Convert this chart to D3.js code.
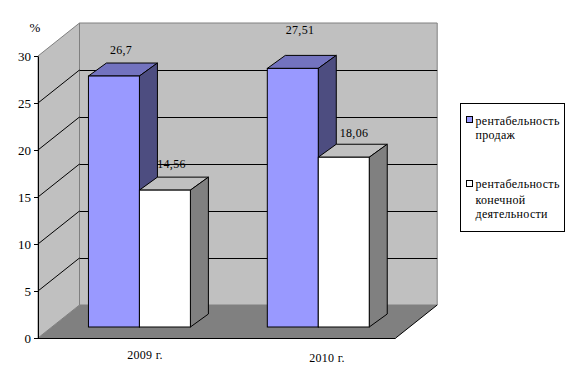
<!DOCTYPE html>
<html>
<head>
<meta charset="utf-8">
<script src="https://cdn.jsdelivr.net/npm/d3@7"></script>
<style>
	html, body { margin: 0; padding: 0; background: #fff; }
	text { font-family: "Liberation Serif", serif; font-size: 12px; fill: #000; }
</style>
</head>
<body>
<div id="container"></div>
<script>
const categories = ["2009 г.", "2010 г."];
const salesValues = [26.7, 27.51];
const activityValues = [14.56, 18.06];
const valueLabels = [["26,7", "14,56"], ["27,51", "18,06"]];
const yTicks = [0, 5, 10, 15, 20, 25, 30];
const legendLabels = [["рентабельность", "продаж"], ["рентабельность", "конечной", "деятельности"]];

const width = 573;
const height = 385;

const plotLeft = 38, plotRight = 395.7, plotBottom = 338, plotTop = 56;
const wallDx = 41.5, wallDy = 33;   // depth of the box
const barDx = 18, barDy = 13;       // depth of a bar
const floorGap = 11;                // bar base sits this far above the front edge
const barShift = 12;

const svg = d3.select("#container")
	.append("svg")
		.attr("width", width)
		.attr("height", height)
		.style("display", "block");

const scaleY = d3.scaleLinear().domain([0, 30]).range([plotBottom, plotTop]);
const scaleX = d3.scaleBand().domain(categories).range([plotLeft, plotRight]).paddingInner(0.43).paddingOuter(0.215);
const barY = (v) => plotBottom - floorGap - (plotBottom - scaleY(v));

const poly = (pts) => pts.map((p) => p.join(",")).join(" ");

// walls and floor
svg.append("polygon")
	.attr("points", poly([[plotLeft + wallDx, plotTop - wallDy], [plotRight + wallDx, plotTop - wallDy], [plotRight + wallDx, plotBottom - wallDy], [plotLeft + wallDx, plotBottom - wallDy]]))
	.style("fill", "#c0c0c0").style("stroke", "#808080");
svg.append("polygon")
	.attr("points", poly([[plotLeft, plotTop], [plotLeft + wallDx, plotTop - wallDy], [plotLeft + wallDx, plotBottom - wallDy], [plotLeft, plotBottom]]))
	.style("fill", "#c0c0c0").style("stroke", "#808080");
svg.append("polygon")
	.attr("points", poly([[plotLeft, plotBottom], [plotLeft + wallDx, plotBottom - wallDy], [plotRight + wallDx, plotBottom - wallDy], [plotRight, plotBottom]]))
	.style("fill", "#808080");

// grid lines
const grid = svg.append("g");
const gridTicks = yTicks.filter((d) => d > 0 && d < 30);
grid.selectAll(".side").data(gridTicks).enter().append("line")
	.attr("x1", plotLeft).attr("y1", (d) => scaleY(d))
	.attr("x2", plotLeft + wallDx).attr("y2", (d) => scaleY(d) - wallDy)
	.style("stroke", "#000");
grid.selectAll(".back").data(gridTicks).enter().append("line")
	.attr("x1", plotLeft + wallDx).attr("y1", (d) => Math.round(scaleY(d) - wallDy) + 0.5)
	.attr("x2", plotRight + wallDx).attr("y2", (d) => Math.round(scaleY(d) - wallDy) + 0.5)
	.style("stroke", "#000");

// floor edges
svg.append("line")
	.attr("x1", plotRight).attr("y1", plotBottom).attr("x2", plotRight + wallDx).attr("y2", plotBottom - wallDy)
	.style("stroke", "#000");
svg.append("line")
	.attr("x1", plotLeft).attr("y1", plotBottom + 0.5).attr("x2", plotRight).attr("y2", plotBottom + 0.5)
	.style("stroke", "#000");

// axis
const axis = svg.append("g")
	.attr("transform", `translate(${plotLeft}, 0)`)
	.call(d3.axisLeft(scaleY).tickValues(yTicks).tickSize(4).tickSizeOuter(0).tickPadding(3));
axis.selectAll("path, line").style("stroke", "#000");
axis.selectAll("text").style("font-family", '"Liberation Serif", serif').style("font-size", "13px");

// bars
const series = [
	{ values: salesValues, front: "#9999ff", top: "#7373bf", side: "#4d4d80", offset: 0 },
	{ values: activityValues, front: "#ffffff", top: "#c0c0c0", side: "#808080", offset: 1 },
];
const barW = scaleX.bandwidth() / 2;

function drawBar(g, x, v, s) {
	const y0 = plotBottom - floorGap, y1 = barY(v), x1 = x + barW;
	g.append("polygon")
		.attr("points", poly([[x, y1], [x + barDx, y1 - barDy], [x1 + barDx, y1 - barDy], [x1, y1]]))
		.style("fill", s.top);
	g.append("polygon")
		.attr("points", poly([[x1, y1], [x1 + barDx, y1 - barDy], [x1 + barDx, y0 - barDy], [x1, y0]]))
		.style("fill", s.side);
	g.append("rect")
		.attr("x", x).attr("y", y1).attr("width", barW).attr("height", y0 - y1)
		.style("fill", s.front);
	g.selectAll("polygon, rect").style("stroke", "#000").style("stroke-width", 1);
}

categories.forEach((c, i) => {
	series.forEach((s) => {
		drawBar(svg.append("g"), scaleX(c) + barShift + s.offset * barW, s.values[i], s);
	});
});

// value labels
const labelPos = [[[121, 54], [171.5, 168]], [[300, 34], [354, 137]]];
categories.forEach((c, i) => {
	valueLabels[i].forEach((t, j) => {
		svg.append("text")
			.attr("x", labelPos[i][j][0]).attr("y", labelPos[i][j][1])
			.attr("text-anchor", "middle")
			.style("letter-spacing", "0.3px")
			.text(t);
	});
});

// category labels and unit
const catX = [145, 327];
const catY = [359, 362];
svg.selectAll(".cat").data(categories).enter().append("text")
	.attr("x", (d, i) => catX[i])
	.attr("y", (d, i) => catY[i])
	.attr("text-anchor", "middle")
	.style("letter-spacing", "0.3px")
	.text((d) => d);
svg.append("text").attr("x", 35).attr("y", 32).attr("text-anchor", "middle").style("font-size", "13px").text("%");

// legend
const legend = svg.append("g");
legend.append("rect")
	.attr("x", 460.5).attr("y", 103.5).attr("width", 104).attr("height", 128)
	.style("fill", "#fff").style("stroke", "#000");
const legendY = [[125, 139], [187.5, 204, 218]];
const legendColors = ["#9999ff", "#ffffff"];
const swatchY = [116.5, 180.5];
legendLabels.forEach((lines, i) => {
	legend.append("rect")
		.attr("x", 466.5).attr("y", swatchY[i]).attr("width", 6).attr("height", 6)
		.style("fill", legendColors[i]).style("stroke", "#000");
	lines.forEach((t, k) => {
		legend.append("text")
			.attr("x", 475.5).attr("y", legendY[i][k])
			.style("letter-spacing", "0.3px")
			.text(t);
	});
});
</script>
</body>
</html>
